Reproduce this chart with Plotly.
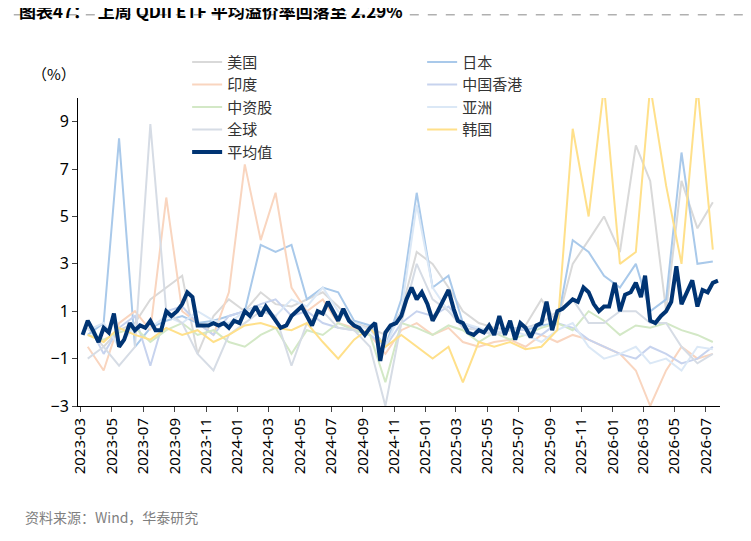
import pandas as pd
import plotly.graph_objects as go

months = pd.date_range("2023-03-01", periods=41, freq="MS")
mid = months + pd.Timedelta(days=14)

us = [0.3,-0.5,0.2,0.5,1.5,2.0,2.5,-0.8,0.8,1.5,1.0,1.8,1.3,1.2,1.5,1.8,1.2,0.5,0.3,0.0,1.0,3.5,3.0,2.0,1.0,0.5,0.3,0.2,0.4,1.5,0.5,3.0,4.0,5.0,3.5,8.0,6.5,1.0,6.5,4.5,5.6]
jp = [0.0,0.5,8.3,-0.5,0.3,0.6,0.8,0.5,0.6,0.8,1.0,3.8,3.5,3.8,1.5,2.0,1.8,0.6,0.4,-0.5,1.5,6.0,2.0,2.5,0.5,0.2,0.0,0.3,0.2,0.4,0.5,4.0,3.5,2.5,2.0,3.0,1.0,1.5,7.7,3.0,3.1]
india = [-0.5,-1.5,0.5,1.0,0.2,5.8,1.0,0.5,0.0,1.8,7.2,4.0,6.0,2.0,1.0,1.5,0.5,0.3,0.0,-0.8,0.2,0.5,0.0,0.3,-0.3,-0.5,-0.3,-0.2,-0.5,0.0,-0.3,0.0,-0.2,-0.5,-0.8,-1.5,-3.0,-1.5,-0.5,-1.0,-0.8]
hk = [0.5,-0.8,0.3,0.8,-1.3,1.0,1.2,0.5,0.0,0.8,1.0,1.3,1.5,0.8,1.0,0.5,0.3,0.2,0.0,-0.5,0.5,1.0,0.8,1.2,0.5,0.2,0.0,0.3,0.2,0.0,0.5,0.3,-0.2,-0.5,-0.8,-1.0,-0.5,-0.8,-1.2,-1.0,-0.5]
cn = [0.0,-0.2,0.1,0.3,-0.3,0.2,0.5,0.0,0.2,-0.3,-0.5,0.0,0.3,-0.8,0.2,0.0,0.5,0.2,0.0,-2.0,0.5,0.3,0.0,0.4,0.2,-0.3,0.1,-0.2,0.0,0.3,0.5,0.2,1.0,0.6,0.0,0.4,0.3,0.5,0.2,0.0,-0.3]
asia = [0.2,0.5,-0.5,0.4,0.3,0.8,0.5,1.0,0.6,0.5,1.0,1.2,0.8,1.5,1.2,2.0,1.0,0.5,0.2,-0.5,1.0,5.5,2.0,1.0,0.5,0.3,0.1,0.2,0.0,-0.3,0.2,0.5,-0.5,-1.0,-0.8,-0.5,-1.2,-1.0,-1.5,-0.5,-0.6]
glob = [-1.0,-0.5,-1.3,-0.5,8.9,1.0,0.5,-0.8,-1.5,0.0,0.5,1.0,0.8,-1.3,0.5,1.0,0.3,0.2,-0.5,-3.0,0.5,3.0,1.5,1.0,0.3,0.2,0.0,0.2,0.3,0.5,1.0,1.5,0.5,0.5,1.0,1.0,0.5,0.5,-0.5,-1.2,-0.8]
kr = [0.0,-0.3,0.3,0.0,-0.2,0.3,0.0,0.2,-0.3,0.0,0.4,0.5,0.3,0.2,0.5,-0.3,-1.0,-0.2,0.3,-0.5,0.0,-0.5,-1.0,-0.5,-2.0,-0.3,-0.5,-0.3,-0.6,-0.5,0.2,8.7,5.0,10.5,3.0,3.5,10.5,6.3,3.0,10.5,3.6]

avg = [0.0,0.6,0.2, -0.3,0.3,0.1, 0.9,-0.5,-0.2, 0.5,0.2,0.4, 0.3,0.6,0.2, 0.2,1.0,0.8,
       1.0,1.3,1.8, 1.6,0.4,0.4, 0.4,0.5,0.4, 0.5,0.3,0.6, 0.5,1.0,0.8, 1.2,0.8,1.2,
       0.9,0.6,0.3, 0.4,0.8,1.0, 1.2,0.8,0.4, 1.0,0.9,1.4, 1.0,0.6,1.1, 0.6,0.4,0.3,
       0.0,0.3,0.5, -1.1,0.1,0.4, 0.5,0.8,1.5, 2.0,1.5,1.8, 1.3,0.6,1.0, 1.5,1.9,1.1,
       0.6,0.5,0.1, 0.0,0.2,0.1, 0.4,0.0,0.8, 0.0,0.6,-0.2, 0.5,0.3,-0.1, 0.4,0.5,1.4,
       0.2,1.0,1.1, 1.3,1.5,1.4, 2.0,1.8,1.3, 1.0,1.2,1.2, 2.2,1.0,1.7, 1.8,2.2,1.6,
       2.5,0.6,0.5, 0.8,1.0,1.4, 2.9,1.3,1.8, 2.3,1.2,1.9, 1.8,2.2,2.29]
avg_dates = [m + pd.Timedelta(days=d) for m in months for d in (4, 14, 24)]

fig = go.Figure()
bg = [("美国", us, "#d9d9d9"), ("日本", jp, "#a9c9ea"), ("印度", india, "#f9d5bf"),
      ("中国香港", hk, "#c7d3ee"), ("中资股", cn, "#d3e8c6"), ("亚洲", asia, "#dbe8f6"),
      ("全球", glob, "#d6dce5"), ("韩国", kr, "#ffe08a")]
for name, vals, col in bg:
    fig.add_trace(go.Scatter(x=mid, y=vals, name=name, mode="lines",
                             line=dict(color=col, width=2)))
fig.add_trace(go.Scatter(x=avg_dates, y=avg, name="平均值", mode="lines",
                         line=dict(color="#003473", width=4)))
fig.add_hline(y=0, line=dict(color="black", width=1.2, dash="dash"))

tickvals = months[::2]
fig.update_layout(
    width=751, height=541, plot_bgcolor="white", paper_bgcolor="white",
    margin=dict(l=70, r=39, t=90, b=143),
    font=dict(family="Noto Sans CJK SC", size=15, color="black"),
    showlegend=True,
    legend=dict(orientation="h", x=0.17, y=1.17, xanchor="left", yanchor="top",
                bgcolor="rgba(0,0,0,0)", entrywidth=190, font=dict(size=15, color="#333"),
                tracegroupgap=0),
    xaxis=dict(range=[months[0] - pd.Timedelta(days=5), months[-1] + pd.Timedelta(days=28)],
               tickvals=tickvals, ticktext=[d.strftime("%Y-%m") for d in tickvals],
               tickangle=-90, showline=True, linecolor="black", ticks="outside",
               showgrid=False, tickfont=dict(family="Noto Sans", size=15)),
    yaxis=dict(range=[-3, 10], tickvals=[-3,-1,1,3,5,7,9], showline=True,
               linecolor="black", ticks="outside", showgrid=False, zeroline=False,
               tickfont=dict(family="Noto Sans", size=16)),
    annotations=[
        dict(text="<b>图表47：  上周 QDII ETF 平均溢价率回落至 2.29%</b>", x=-0.095, y=1.33,
             xref="paper", yref="paper", showarrow=False, xanchor="left", yanchor="top",
             font=dict(size=17)),
        dict(text="（%）", x=0.0, y=1.12, xref="paper", yref="paper", showarrow=False,
             xanchor="right", font=dict(size=15)),
        dict(text="资料来源：Wind，华泰研究", x=-0.085, y=-0.4, xref="paper", yref="paper",
             showarrow=False, xanchor="left", font=dict(size=14, color="#7f7f7f")),
    ],
    shapes=[dict(type="line", xref="paper", yref="paper", x0=-0.1, x1=1.06, y0=1.27, y1=1.27,
                 line=dict(color="#8a8a8a", width=1))],
)
fig.write_html("out.html")
